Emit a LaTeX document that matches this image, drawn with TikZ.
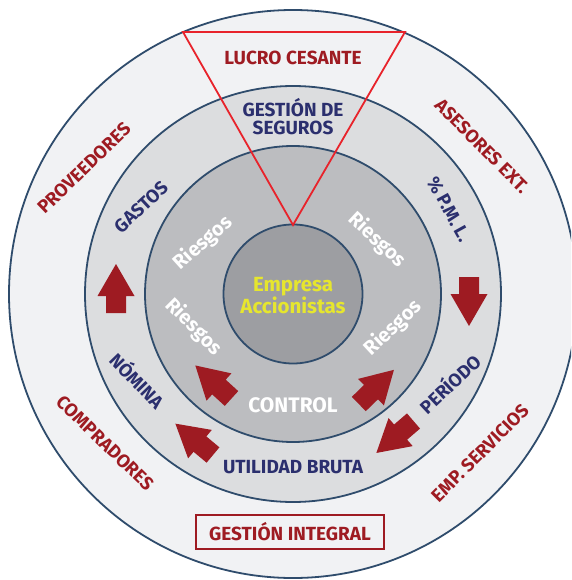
\documentclass[tikz,border=0pt]{standalone}
\usepackage{fontspec}
\setmainfont{Fira Sans}
\definecolor{dred}{HTML}{9E1B22}
\definecolor{navy}{HTML}{2B2F6E}
\definecolor{ringb}{HTML}{2F4C6C}
\definecolor{ringA}{HTML}{F1F2F4}
\definecolor{ringB}{HTML}{DCDDDF}
\definecolor{ringC}{HTML}{BCBDC0}
\definecolor{ringD}{HTML}{9D9EA2}
\definecolor{tri}{HTML}{E8232B}
\definecolor{yel}{HTML}{E6E62E}
\tikzset{
  ring/.style={draw=ringb, line width=1.8pt},
  lbl/.style={font=\bfseries\fontsize{19}{18}\selectfont, inner sep=0pt, align=center},
  rlbl/.style={font=\bfseries\fontsize{18.5}{18}\selectfont, inner sep=0pt},
  outerlbl/.style={lbl, text=dred},
  midlbl/.style={lbl, text=navy},
  routerlbl/.style={rlbl, text=dred},
  rmidlbl/.style={rlbl, text=navy},
  risk/.style={font=\bfseries\fontsize{20}{20}\selectfont, inner sep=0pt, text=white},
  blk/.style={fill=dred},
}
\newcommand\blkarrow[3]{\fill[blk,shift={(#1,#2)},rotate=#3] (0,-10)--(17,-10)--(17,-18.5)--(49,0)--(17,18.5)--(17,10)--(0,10)--cycle;}
\begin{document}
\begin{tikzpicture}[x=1pt,y=-1pt]
\useasboundingbox (0,0) rectangle (571,580);
\clip (0,0) rectangle (571,580);
\fill[white] (0,0) rectangle (571,580);
\coordinate (c) at (293,294);
\filldraw[ring, fill=ringA] (c) circle[radius=284pt];
\filldraw[ring, fill=ringB] (c) circle[radius=208pt];
\filldraw[ring, fill=ringC] (c) circle[radius=148pt];
\filldraw[ring, fill=ringD] (c) circle[radius=69.5pt];
% triangle
\coordinate (tl) at (183,32);
\coordinate (tr) at (405,32);
\coordinate (tp) at (293,225);
\draw[tri, line width=1.8pt, line join=miter] (tl)--(tr)--(tp)--cycle;
% top texts
\node[outerlbl] (lucro) at (293,58) {LUCRO CESANTE};
\node[midlbl] (gseg) at (293,117) {GESTIÓN DE\\SEGUROS};
% outer ring
\node[routerlbl, rotate=44] (prov) at (84,168) {PROVEEDORES};
\node[routerlbl, rotate=-45] (ases) at (482,146) {ASESORES EXT.};
\node[routerlbl, rotate=-44] (comp) at (105,443) {COMPRADORES};
\node[routerlbl, rotate=45] (emps) at (480,453) {EMP. SERVICIOS};
% middle ring
\node[rmidlbl, rotate=43] (gast) at (141,207) {GASTOS};
\node[rmidlbl, rotate=-61] (pml) at (449,209) {\% P.M. L.};
\node[rmidlbl, rotate=-46] (nomi) at (138,380) {NÓMINA};
\node[rmidlbl, rotate=43] (peri) at (449,383) {PERÍODO};
\node[midlbl] (util) at (293,467) {UTILIDAD BRUTA};
% inner ring
\node[risk, rotate=42] (r1) at (203,243) {Riesgos};
\node[risk, rotate=-43] (r2) at (377,240) {Riesgos};
\node[risk, rotate=-45] (r3) at (194,327) {Riesgos};
\node[risk, rotate=43] (r4) at (393,328) {Riesgos};
\node[risk, font=\bfseries\fontsize{21}{21}\selectfont] (ctrl) at (293,405) {CONTROL};
% core
\node[lbl, text=yel, font=\bfseries\fontsize{20.5}{21}\selectfont] (emp) at (293,295.5) {Empresa\\Accionistas};
% box
\node[outerlbl, draw=dred, line width=1.8pt, fill=ringA, minimum width=188pt, minimum height=34pt] (gint) at (290,532) {GESTIÓN INTEGRAL};
% arrows
\blkarrow{116}{313}{90}
\blkarrow{469}{277}{-90}
\blkarrow{231.5}{398.5}{137.6}
\blkarrow{213}{455}{140.2}
\blkarrow{358.8}{404}{44.2}
\blkarrow{413.5}{421}{-139.3}
\end{tikzpicture}
\end{document}
